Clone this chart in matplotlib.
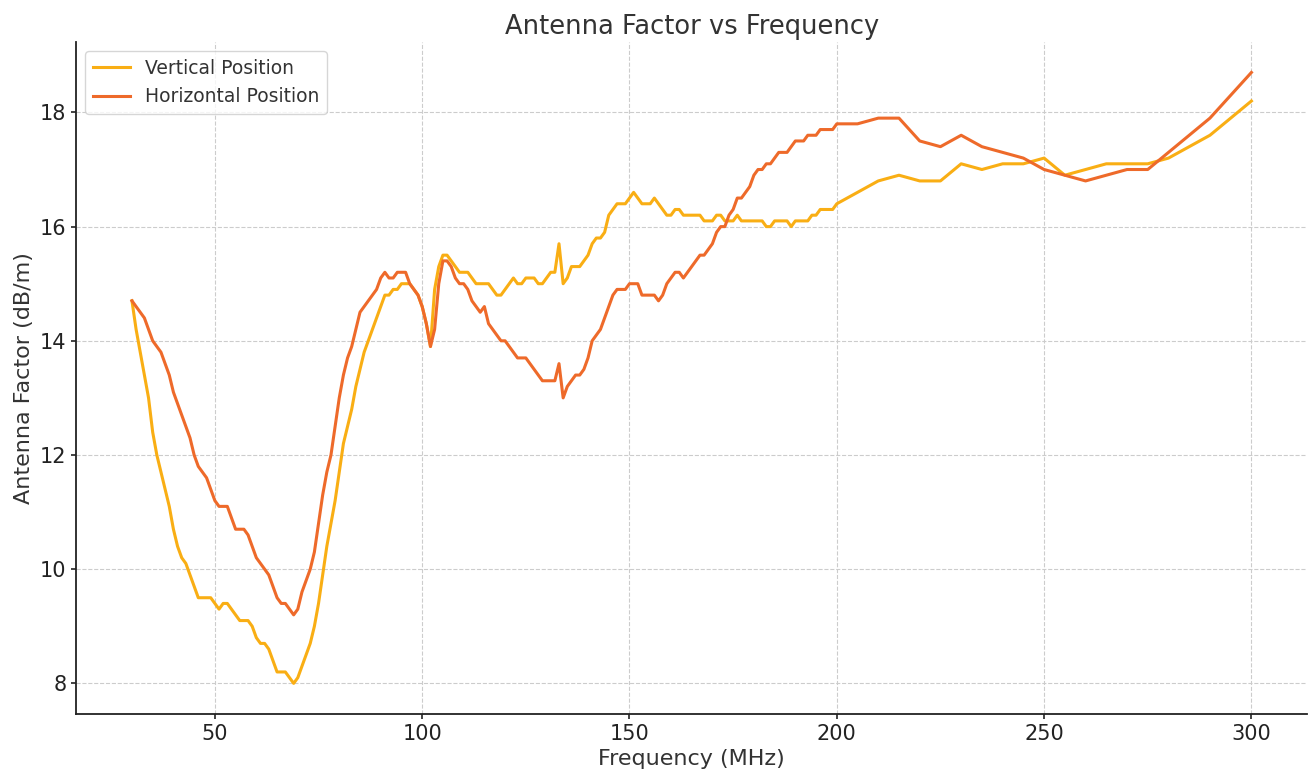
import matplotlib.pyplot as plt
import numpy as np

# frequency axis: 1 MHz steps up to 200, then coarser
freq = list(range(30, 201)) + list(range(205, 281, 5)) + [290, 300]

vertical = [
    14.7, 14.2, 13.8, 13.4, 13.0, 12.4, 12.0, 11.7, 11.4, 11.1,   # 30-39
    10.7, 10.4, 10.2, 10.1, 9.9, 9.7, 9.5, 9.5, 9.5, 9.5,         # 40-49
    9.4, 9.3, 9.4, 9.4, 9.3, 9.2, 9.1, 9.1, 9.1, 9.0,             # 50-59
    8.8, 8.7, 8.7, 8.6, 8.4, 8.2, 8.2, 8.2, 8.1, 8.0,             # 60-69
    8.1, 8.3, 8.5, 8.7, 9.0, 9.4, 9.9, 10.4, 10.8, 11.2,          # 70-79
    11.7, 12.2, 12.5, 12.8, 13.2, 13.5, 13.8, 14.0, 14.2, 14.4,   # 80-89
    14.6, 14.8, 14.8, 14.9, 14.9, 15.0, 15.0, 15.0, 14.9, 14.8,   # 90-99
    14.6, 14.3, 13.9, 14.9, 15.3, 15.5, 15.5, 15.4, 15.3, 15.2,   # 100-109
    15.2, 15.2, 15.1, 15.0, 15.0, 15.0, 15.0, 14.9, 14.8, 14.8,   # 110-119
    14.9, 15.0, 15.1, 15.0, 15.0, 15.1, 15.1, 15.1, 15.0, 15.0,   # 120-129
    15.1, 15.2, 15.2, 15.7, 15.0, 15.1, 15.3, 15.3, 15.3, 15.4,   # 130-139
    15.5, 15.7, 15.8, 15.8, 15.9, 16.2, 16.3, 16.4, 16.4, 16.4,   # 140-149
    16.5, 16.6, 16.5, 16.4, 16.4, 16.4, 16.5, 16.4, 16.3, 16.2,   # 150-159
    16.2, 16.3, 16.3, 16.2, 16.2, 16.2, 16.2, 16.2, 16.1, 16.1,   # 160-169
    16.1, 16.2, 16.2, 16.1, 16.1, 16.1, 16.2, 16.1, 16.1, 16.1,   # 170-179
    16.1, 16.1, 16.1, 16.0, 16.0, 16.1, 16.1, 16.1, 16.1, 16.0,   # 180-189
    16.1, 16.1, 16.1, 16.1, 16.2, 16.2, 16.3, 16.3, 16.3, 16.3,   # 190-199
    16.4,                                                         # 200
    16.6, 16.8, 16.9, 16.8, 16.8, 17.1, 17.0, 17.1, 17.1, 17.2,   # 205-250
    16.9, 17.0, 17.1, 17.1, 17.1, 17.2,                           # 255-280
    17.6, 18.2,                                                   # 290, 300
]

horizontal = [
    14.7, 14.6, 14.5, 14.4, 14.2, 14.0, 13.9, 13.8, 13.6, 13.4,   # 30-39
    13.1, 12.9, 12.7, 12.5, 12.3, 12.0, 11.8, 11.7, 11.6, 11.4,   # 40-49
    11.2, 11.1, 11.1, 11.1, 10.9, 10.7, 10.7, 10.7, 10.6, 10.4,   # 50-59
    10.2, 10.1, 10.0, 9.9, 9.7, 9.5, 9.4, 9.4, 9.3, 9.2,          # 60-69
    9.3, 9.6, 9.8, 10.0, 10.3, 10.8, 11.3, 11.7, 12.0, 12.5,      # 70-79
    13.0, 13.4, 13.7, 13.9, 14.2, 14.5, 14.6, 14.7, 14.8, 14.9,   # 80-89
    15.1, 15.2, 15.1, 15.1, 15.2, 15.2, 15.2, 15.0, 14.9, 14.8,   # 90-99
    14.6, 14.3, 13.9, 14.2, 15.0, 15.4, 15.4, 15.3, 15.1, 15.0,   # 100-109
    15.0, 14.9, 14.7, 14.6, 14.5, 14.6, 14.3, 14.2, 14.1, 14.0,   # 110-119
    14.0, 13.9, 13.8, 13.7, 13.7, 13.7, 13.6, 13.5, 13.4, 13.3,   # 120-129
    13.3, 13.3, 13.3, 13.6, 13.0, 13.2, 13.3, 13.4, 13.4, 13.5,   # 130-139
    13.7, 14.0, 14.1, 14.2, 14.4, 14.6, 14.8, 14.9, 14.9, 14.9,   # 140-149
    15.0, 15.0, 15.0, 14.8, 14.8, 14.8, 14.8, 14.7, 14.8, 15.0,   # 150-159
    15.1, 15.2, 15.2, 15.1, 15.2, 15.3, 15.4, 15.5, 15.5, 15.6,   # 160-169
    15.7, 15.9, 16.0, 16.0, 16.2, 16.3, 16.5, 16.5, 16.6, 16.7,   # 170-179
    16.9, 17.0, 17.0, 17.1, 17.1, 17.2, 17.3, 17.3, 17.3, 17.4,   # 180-189
    17.5, 17.5, 17.5, 17.6, 17.6, 17.6, 17.7, 17.7, 17.7, 17.7,   # 190-199
    17.8,                                                         # 200
    17.8, 17.9, 17.9, 17.5, 17.4, 17.6, 17.4, 17.3, 17.2, 17.0,   # 205-250
    16.9, 16.8, 16.9, 17.0, 17.0, 17.3,                           # 255-280
    17.9, 18.7,                                                   # 290, 300
]

fig, ax = plt.subplots(figsize=(13.1, 7.76), dpi=100)
fig.subplots_adjust(left=0.058, right=0.998, bottom=0.080, top=0.946)

ax.plot(freq, vertical, color='#F9AE14', linewidth=2.2, label='Vertical Position')
ax.plot(freq, horizontal, color='#EE6A2A', linewidth=2.2, label='Horizontal Position')

ax.set_title('Antenna Factor vs Frequency', fontsize=18.5, color='#333333')
ax.set_xlabel('Frequency (MHz)', fontsize=16, color='#333333')
ax.set_ylabel('Antenna Factor (dB/m)', fontsize=16, color='#333333')
ax.tick_params(labelsize=15, colors='#222222', width=1.2)

ax.grid(True, linestyle='--', color='#cccccc', linewidth=0.8)
ax.spines['top'].set_visible(False)
ax.spines['right'].set_visible(False)
ax.spines['left'].set_linewidth(1.3)
ax.spines['bottom'].set_linewidth(1.3)
ax.spines['left'].set_color('#222222')
ax.spines['bottom'].set_color('#222222')

leg = ax.legend(loc='upper left', fontsize=13.5)
for t in leg.get_texts():
    t.set_color('#333333')

plt.savefig('out.png')
